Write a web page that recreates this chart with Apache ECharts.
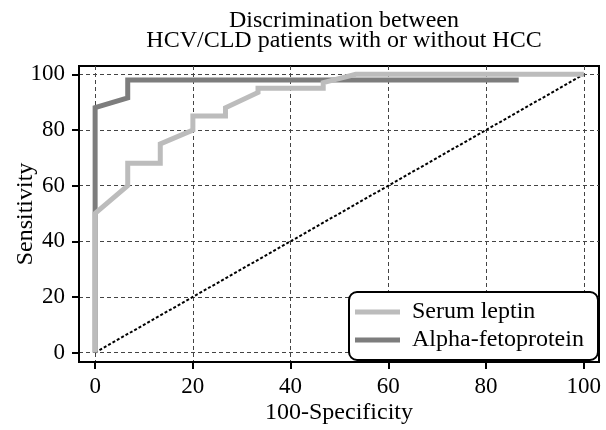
<!DOCTYPE html>
<html>
<head>
<meta charset="utf-8">
<script src="https://cdn.jsdelivr.net/npm/echarts@6/dist/echarts.min.js"></script>
<style>
html,body{margin:0;padding:0;background:#fff;}
#chart{width:606px;height:430px;}
</style>
</head>
<body>
<div id="chart"></div>
<script>
// ---- data ----
var titleText = 'Discrimination between\nHCV/CLD patients with or without HCC';
var xAxisName = '100-Specificity';
var yAxisName = 'Sensitivity';
var seriesNames = ['Serum leptin', 'Alpha-fetoprotein'];
var xTicks = [0, 20, 40, 60, 80, 100];
var yTicks = [0, 20, 40, 60, 80, 100];
var leptinX = [0, 0, 6.67, 6.67, 13.33, 13.33, 20, 20, 26.67, 26.67, 33.33, 33.33, 46.67, 46.67, 53.33, 100];
var leptinY = [0, 50, 60, 68, 68, 75, 80, 85, 85, 88, 93.5, 95, 95, 97, 100, 100];
var afpX = [0, 0, 6.67, 6.67, 86.67];
var afpY = [0, 88, 91.5, 98, 98];
var refX = [0, 100];
var refY = [0, 100];

function pairs(xs, ys) { return xs.map(function (x, i) { return [x, ys[i]]; }); }

var FONT = 'Liberation Serif';
var chart = echarts.init(document.getElementById('chart'), null, {renderer: 'canvas'});
chart.setOption({
  animation: false,
  backgroundColor: '#fff',
  title: {
    text: titleText,
    left: 339, top: 6, textAlign: 'center',
    textStyle: {fontFamily: FONT, fontSize: 24, fontWeight: 'normal', color: '#000', lineHeight: 20}
  },
  graphic: [{
    type: 'rect', z: 50,
    shape: {x: 349, y: 292, width: 249, height: 68, r: 8},
    style: {fill: '#fff', stroke: '#000', lineWidth: 2}
  }],
  legend: {
    data: seriesNames,
    orient: 'vertical',
    left: 355, top: 300, z: 60,
    icon: 'rect', itemWidth: 45, itemHeight: 5, itemGap: 4,
    padding: 0,
    textStyle: {fontFamily: FONT, fontSize: 24, color: '#000', lineHeight: 24, padding: [0, 0, 0, 7]}
  },
  grid: {left: 79, right: 7, top: 66, bottom: 68, containLabel: false, outerBoundsMode: 'none',
         show: true, borderColor: '#000', borderWidth: 2, backgroundColor: 'transparent'},
  xAxis: {
    type: 'value', min: -3.3, max: 103.1,
    name: xAxisName, nameLocation: 'middle', nameGap: 39, nameMoveOverlap: false,
    nameTextStyle: {fontFamily: FONT, fontSize: 24, color: '#000'},
    axisLine: {onZero: false, lineStyle: {color: '#000', width: 2}},
    axisTick: {show: true, customValues: xTicks, length: 7, lineStyle: {color: '#000', width: 2}},
    axisLabel: {customValues: xTicks, margin: 13, fontFamily: FONT, fontSize: 23, color: '#000'},
    splitLine: {show: true, lineStyle: {color: '#444', width: 1, type: [4, 3]}}
  },
  yAxis: {
    type: 'value', min: -3.4, max: 103,
    name: yAxisName, nameLocation: 'middle', nameGap: 41, nameMoveOverlap: false,
    nameTextStyle: {fontFamily: FONT, fontSize: 24, color: '#000'},
    axisLine: {show: true, onZero: false, lineStyle: {color: '#000', width: 2}},
    axisTick: {show: true, customValues: yTicks, length: 7, lineStyle: {color: '#000', width: 2}},
    axisLabel: {customValues: yTicks, margin: 14, fontFamily: FONT, fontSize: 23, color: '#000'},
    splitLine: {show: true, lineStyle: {color: '#444', width: 1, type: [4, 3]}}
  },
  series: [
    {
      name: seriesNames[1], type: 'line', data: pairs(afpX, afpY),
      showSymbol: false, symbol: 'none',
      lineStyle: {color: '#7d7d7d', width: 5, join: 'miter'}, itemStyle: {color: '#7d7d7d'}, z: 3
    },
    {
      name: seriesNames[0], type: 'line', data: pairs(leptinX, leptinY),
      showSymbol: false, symbol: 'none',
      lineStyle: {color: '#bcbcbc', width: 5, join: 'miter'}, itemStyle: {color: '#bcbcbc'}, z: 4
    },
    {
      name: 'reference', type: 'line', data: pairs(refX, refY),
      showSymbol: false, symbol: 'none',
      lineStyle: {color: '#000', width: 2, type: [3, 2]}, z: 2
    }
  ]
});
</script>
</body>
</html>
